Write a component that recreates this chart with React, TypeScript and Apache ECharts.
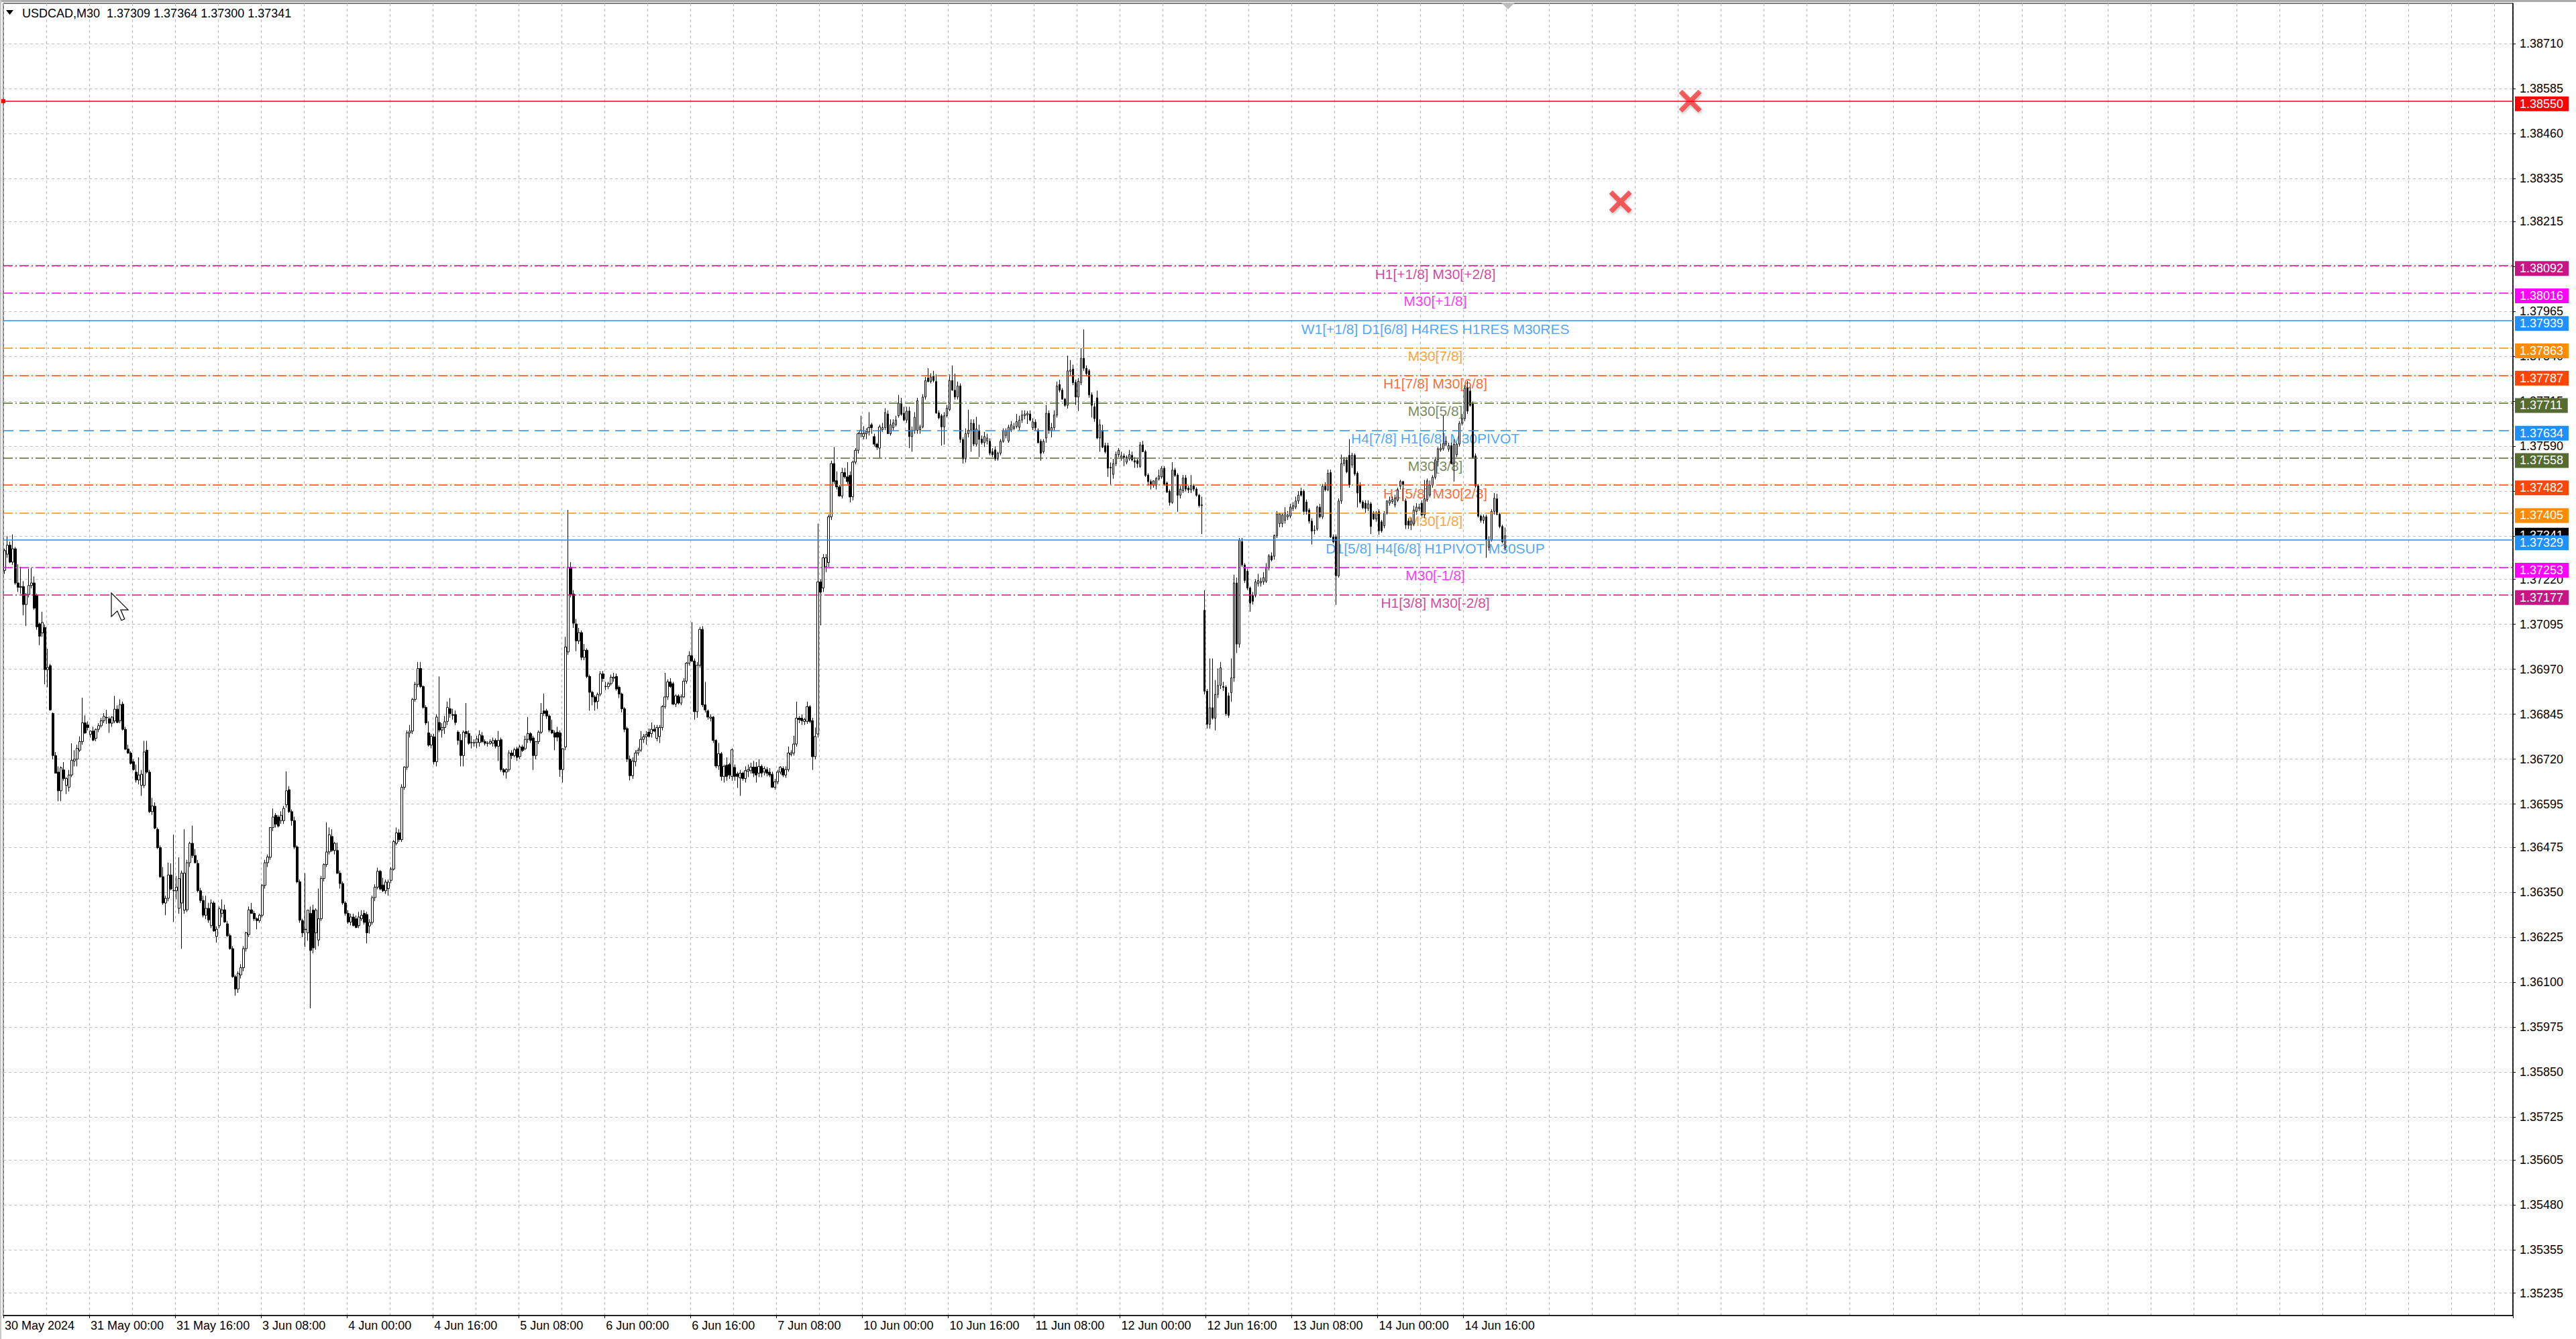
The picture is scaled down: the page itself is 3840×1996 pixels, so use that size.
import React, { useEffect, useRef } from "react";
import * as echarts from "echarts";

const SYMBOL = "USDCAD,M30";
const BASE = 1.36;
const PT = 100000;

// M30 bars, [open, high, low, close] in points above 1.36000
const may30 = [
  [1245,1305,1235,1300],[1290,1340,1280,1315],[1315,1325,1265,1268],[1268,1345,1260,1305],
  [1305,1310,1205,1210],[1210,1262,1185,1198],[1198,1255,1180,1200],[1200,1215,1120,1150],
  [1150,1182,1090,1178],[1178,1250,1170,1203],[1203,1252,1195,1210],[1210,1228,1135,1140],
  [1175,1180,1080,1088],[1096,1100,1037,1062],[1071,1130,1060,1100],[1086,1095,928,969],
  [969,1027,920,975],[980,985,855,857],[847,850,720,730],[730,740,680,681],
  [684,700,603,632],[632,700,603,696],[690,712,660,666],[647,670,623,666],
  [642,690,630,676],[676,764,670,717],[715,745,700,720],[720,760,700,750],
  [745,783,740,769],[769,891,760,821],[821,842,790,793],[815,825,800,808],
];
const may31 = [
  [789,800,780,798],[798,810,770,773],[778,805,770,803],[803,820,795,813],
  [813,835,808,827],[827,848,820,839],[836,857,818,835],[832,838,793,820],
  [820,840,810,837],[826,896,820,859],[859,870,820,822],[827,886,820,871],
  [873,880,800,803],[803,810,745,748],[748,760,735,737],[737,742,705,708],
  [713,720,688,691],[684,705,655,662],[662,725,650,676],[647,690,618,678],
  [647,771,640,740],[745,771,680,684],[684,690,570,574],[574,612,565,590],
  [589,600,525,528],[525,530,470,474],[474,480,390,393],[393,420,315,320],
  [320,340,286,333],[333,432,325,398],[398,430,355,359],[355,510,267,354],
  [354,395,330,364],[305,447,290,388],[320,410,193,403],[300,525,290,403],
  [301,440,295,432],[432,490,420,486],[486,535,445,452],[452,470,430,432],
  [430,440,350,354],[354,362,320,327],[327,340,280,286],[286,340,275,305],
  [305,320,265,273],[257,330,250,320],[320,325,240,242],[227,255,210,247],
];
const jun03 = [
  [257,310,250,304],[291,330,280,301],[301,315,265,267],[262,270,225,229],
  [229,235,190,193],[193,200,112,115],[115,120,62,81],[81,130,70,124],
  [120,150,110,140],[140,200,130,193],[193,240,185,237],[232,310,225,301],
  [301,320,290,291],[291,298,270,276],[276,280,247,271],[271,290,265,286],
  [286,372,280,369],[369,440,360,432],[432,455,420,448],[447,530,440,530],
  [530,583,520,559],[564,570,530,539],[559,565,530,534],[549,575,540,564],
  [549,590,540,583],[593,686,585,632],[635,645,570,574],[574,580,535,549],
  [549,560,470,476],[476,480,375,379],[379,385,265,272],[271,276,225,237],
  [247,403,198,246],[237,300,215,300],[291,310,27,188],[300,315,180,195],
  [237,305,190,300],[217,360,200,276],[276,395,270,388],[388,430,380,427],
  [427,544,420,462],[462,530,455,510],[505,525,462,466],[466,490,455,486],
  [466,488,400,403],[403,410,360,374],[374,380,315,320],[320,325,285,291],
];
const jun04 = [
  [291,300,262,267],[267,290,258,281],[281,290,255,257],[276,285,250,252],
  [257,295,250,281],[276,300,270,286],[291,300,260,266],[288,295,208,237],
  [256,275,235,266],[266,340,260,335],[335,372,325,364],[364,418,358,408],
  [408,412,355,359],[370,390,350,354],[354,385,345,378],[360,385,340,378],
  [383,420,375,414],[414,495,410,491],[486,530,480,515],[515,525,490,496],
  [496,650,490,642],[642,700,635,698],[698,800,690,793],[793,815,780,798],
  [798,890,790,886],[886,935,880,928],[928,990,920,972],[972,990,918,922],
  [922,925,860,864],[864,870,815,821],[793,825,755,759],[759,790,750,784],
  [782,790,705,713],[713,845,700,837],[822,950,795,801],[801,820,780,808],
  [808,840,790,824],[825,880,815,864],[860,890,835,847],[844,860,830,842],
  [844,855,815,822],[795,800,760,772],[772,790,700,730],[730,800,700,795],
  [797,876,780,791],[791,800,760,764],[766,785,750,766],[766,775,755,765],
];
const jun05 = [
  [766,785,750,776],[766,800,755,788],[785,795,765,769],[769,775,758,764],
  [764,770,755,764],[764,775,760,769],[764,780,755,772],[772,778,750,756],
  [756,798,715,772],[774,780,685,691],[691,695,675,684],[684,695,666,691],
  [691,745,685,737],[737,745,720,730],[730,752,725,746],[749,755,715,725],
  [727,760,720,754],[754,760,740,744],[749,785,745,775],[775,837,765,791],
  [791,795,765,772],[779,785,690,730],[730,770,720,769],[769,800,762,795],
  [795,876,790,847],[854,902,840,847],[854,860,832,840],[840,845,795,801],
  [801,830,790,793],[793,800,745,781],[795,810,770,781],[793,800,671,691],
  [691,750,655,749],[754,1060,745,1032],[1018,1413,1010,1254],[1254,1268,1170,1179],
  [1179,1190,1085,1098],[1096,1110,1020,1049],[1049,1085,1040,1072],[1072,1078,995,1003],
  [1003,1040,995,1023],[1023,1028,945,950],[950,955,855,906],[906,910,870,893],
  [893,898,855,879],[881,905,860,900],[901,965,895,957],[957,965,935,944],
];
const jun06 = [
  [922,935,912,922],[922,935,915,930],[930,955,925,948],[945,960,935,948],
  [950,958,910,915],[920,925,890,901],[901,905,850,860],[860,865,795,803],
  [805,810,712,720],[720,730,661,674],[674,725,665,715],[713,745,700,737],
  [737,752,730,745],[745,798,740,775],[775,790,765,782],[782,798,760,788],
  [795,805,780,783],[791,822,780,803],[803,815,795,798],[778,815,770,808],
  [783,815,765,808],[808,870,800,866],[866,960,860,893],[893,942,885,935],
  [935,945,918,922],[930,935,870,873],[873,900,865,896],[896,900,872,876],
  [876,900,870,893],[893,945,890,937],[937,990,930,987],[987,1020,980,1008],
  [1008,1101,990,993],[993,1000,830,852],[852,990,835,981],[981,1088,975,1081],
  [1081,1090,865,871],[871,935,850,857],[854,858,830,837],[834,845,825,837],
  [837,840,765,772],[772,775,695,701],[701,765,690,735],[735,740,660,672],
  [672,705,655,700],[703,725,660,672],[705,710,665,676],[672,750,660,746],
];
const jun07 = [
  [697,705,660,672],[679,685,640,672],[668,690,618,681],[681,685,660,666],
  [666,700,655,688],[686,705,670,691],[688,710,680,698],[698,715,670,681],
  [698,712,655,676],[681,720,670,700],[700,705,670,681],[684,700,675,694],
  [691,698,672,681],[684,695,670,676],[678,685,640,642],[642,665,635,657],
  [657,690,650,684],[684,700,678,698],[694,700,670,676],[676,700,668,691],
  [691,755,685,737],[733,745,728,737],[737,785,730,762],[762,880,755,834],
  [834,840,820,830],[834,845,815,827],[825,835,815,830],[825,880,818,866],
  [866,870,820,825],[827,835,690,727],[727,808,720,783],[790,1375,780,1213],
  [1213,1220,1092,1184],[1196,1290,1185,1280],[1255,1290,1240,1280],[1267,1400,1255,1394],
  [1394,1550,1385,1542],[1542,1588,1485,1492],[1494,1520,1470,1477],[1477,1482,1450,1452],
  [1452,1530,1445,1517],[1517,1530,1500,1505],[1505,1546,1485,1492],[1509,1520,1434,1449],
  [1450,1550,1440,1546],[1546,1585,1540,1579],[1579,1630,1570,1625],[1625,1675,1615,1635],
];
const jun10 = [
  [1617,1646,1609,1625],[1625,1640,1610,1630],[1630,1685,1620,1642],[1650,1655,1625,1642],
  [1617,1625,1590,1596],[1596,1600,1580,1588],[1585,1650,1558,1644],[1636,1655,1630,1642],
  [1642,1696,1635,1684],[1680,1690,1625,1625],[1625,1665,1620,1650],[1642,1665,1635,1655],
  [1650,1675,1645,1663],[1675,1733,1670,1710],[1710,1725,1675,1679],[1682,1700,1660,1663],
  [1663,1700,1655,1688],[1688,1700,1585,1617],[1617,1645,1575,1635],[1634,1685,1625,1671],
  [1634,1725,1625,1717],[1636,1650,1625,1644],[1644,1735,1640,1727],[1727,1783,1720,1773],
  [1780,1807,1768,1770],[1770,1793,1765,1783],[1785,1800,1768,1773],[1770,1790,1680,1683],
  [1683,1690,1665,1669],[1675,1680,1592,1644],[1644,1685,1595,1675],[1675,1705,1670,1696],
  [1692,1790,1688,1773],[1773,1815,1745,1746],[1746,1792,1720,1727],[1727,1770,1720,1758],
  [1758,1765,1600,1609],[1609,1615,1542,1555],[1555,1640,1545,1625],[1625,1692,1615,1635],
  [1635,1665,1575,1654],[1654,1665,1590,1596],[1596,1672,1590,1638],[1634,1650,1560,1609],
  [1610,1620,1595,1600],[1600,1630,1588,1617],[1605,1625,1595,1613],[1604,1612,1565,1571],
];
const jun11 = [
  [1575,1585,1560,1567],[1580,1590,1550,1555],[1555,1575,1550,1571],[1571,1610,1565,1604],
  [1604,1640,1600,1633],[1620,1640,1612,1633],[1605,1650,1600,1643],[1635,1660,1630,1650],
  [1640,1655,1635,1645],[1645,1680,1640,1659],[1643,1675,1635,1663],[1663,1690,1655,1677],
  [1675,1690,1665,1680],[1677,1688,1652,1682],[1680,1690,1660,1663],[1642,1668,1635,1658],
  [1657,1665,1634,1642],[1635,1640,1598,1600],[1604,1610,1550,1571],[1575,1610,1570,1604],
  [1613,1705,1600,1682],[1682,1690,1625,1634],[1634,1655,1615,1642],[1642,1690,1635,1677],
  [1677,1770,1670,1758],[1762,1775,1740,1746],[1746,1752,1720,1721],[1721,1725,1700,1704],
  [1704,1842,1695,1800],[1798,1830,1785,1802],[1805,1817,1760,1767],[1768,1775,1705,1727],
  [1727,1780,1688,1771],[1767,1863,1760,1835],[1835,1915,1800,1807],[1807,1815,1785,1792],
  [1800,1805,1725,1733],[1733,1740,1670,1704],[1700,1710,1658,1667],[1725,1745,1610,1613],
  [1613,1665,1575,1650],[1634,1650,1585,1588],[1592,1600,1570,1575],[1592,1600,1505,1529],
  [1530,1545,1484,1532],[1512,1555,1500,1542],[1542,1575,1535,1567],[1567,1585,1560,1579],
];
const jun12 = [
  [1558,1575,1550,1563],[1563,1570,1535,1559],[1546,1565,1540,1560],[1555,1580,1550,1567],
  [1565,1575,1548,1552],[1550,1560,1530,1546],[1550,1555,1530,1542],[1534,1602,1530,1594],
  [1594,1605,1575,1575],[1575,1580,1505,1509],[1510,1515,1480,1492],[1492,1498,1470,1484],
  [1482,1495,1475,1494],[1482,1505,1470,1500],[1499,1525,1495,1508],[1505,1535,1500,1529],
  [1529,1535,1480,1484],[1488,1492,1460,1463],[1465,1470,1425,1434],[1434,1546,1430,1524],
  [1524,1530,1505,1509],[1510,1515,1408,1454],[1454,1480,1445,1471],[1466,1510,1460,1502],
  [1502,1510,1465,1471],[1474,1480,1460,1469],[1469,1510,1460,1482],[1480,1485,1465,1471],
  [1471,1476,1450,1454],[1454,1458,1420,1425],[1425,1450,1346,1427],[1134,1190,900,909],
  [909,915,805,817],[817,1000,805,863],[863,1000,830,834],[834,940,800,900],
  [900,972,890,925],[925,990,915,974],[922,935,910,920],[920,925,840,846],
  [896,905,835,842],[905,1000,880,946],[946,1233,935,1210],[1210,1225,1015,1040],
  [1040,1335,1030,1329],[1325,1335,1255,1260],[1260,1265,1210,1217],[1243,1250,1190,1196],
];
const jun13 = [
  [1196,1200,1130,1154],[1175,1185,1150,1159],[1175,1220,1170,1213],[1208,1235,1200,1217],
  [1210,1225,1200,1215],[1213,1240,1205,1225],[1215,1265,1210,1252],[1252,1290,1245,1285],
  [1285,1295,1270,1274],[1284,1345,1275,1342],[1342,1410,1335,1402],[1375,1405,1365,1402],
  [1375,1405,1365,1399],[1384,1421,1375,1405],[1394,1410,1385,1399],[1396,1430,1390,1421],
  [1417,1435,1410,1425],[1421,1450,1415,1438],[1438,1465,1430,1454],[1465,1475,1450,1454],
  [1465,1470,1400,1409],[1435,1442,1400,1409],[1413,1418,1375,1382],[1382,1390,1317,1354],
  [1356,1370,1345,1357],[1360,1425,1355,1421],[1421,1430,1390,1394],[1394,1485,1388,1479],
  [1479,1490,1465,1469],[1469,1525,1465,1515],[1517,1525,1335,1338],[1338,1345,1320,1325],
  [1338,1345,1149,1230],[1230,1445,1225,1438],[1438,1567,1430,1542],[1542,1560,1535,1552],
  [1552,1560,1515,1519],[1565,1610,1475,1483],[1538,1572,1530,1565],[1565,1570,1508,1513],
  [1515,1520,1420,1460],[1482,1490,1430,1435],[1435,1440,1415,1419],[1432,1440,1405,1417],
  [1417,1440,1410,1430],[1430,1435,1346,1367],[1405,1410,1385,1388],[1388,1410,1380,1405],
];
const jun14 = [
  [1408,1415,1344,1355],[1380,1385,1350,1355],[1369,1410,1362,1404],[1404,1440,1400,1438],
  [1432,1450,1425,1440],[1436,1450,1430,1442],[1427,1455,1420,1446],[1440,1475,1435,1469],
  [1479,1497,1470,1492],[1492,1494,1440,1484],[1438,1445,1360,1371],[1382,1390,1360,1371],
  [1371,1392,1357,1382],[1374,1425,1368,1413],[1409,1432,1400,1421],[1417,1430,1410,1421],
  [1432,1440,1395,1399],[1399,1496,1390,1444],[1442,1500,1436,1494],[1454,1495,1448,1482],
  [1482,1510,1475,1504],[1504,1560,1498,1552],[1552,1588,1534,1583],[1580,1598,1575,1585],
  [1583,1675,1578,1598],[1596,1618,1590,1604],[1582,1600,1575,1592],[1592,1600,1540,1542],
  [1542,1610,1492,1596],[1567,1600,1560,1596],[1596,1660,1590,1654],[1654,1680,1648,1667],
  [1667,1760,1660,1752],[1752,1772,1680,1688],[1744,1755,1700,1704],[1708,1715,1555,1559],
  [1563,1570,1475,1480],[1480,1485,1392,1396],[1396,1400,1378,1384],[1384,1400,1375,1394],
  [1394,1400,1280,1330],[1309,1340,1300,1330],[1330,1415,1325,1409],[1409,1460,1400,1446],
  [1444,1458,1398,1401],[1401,1405,1362,1367],[1367,1372,1320,1325],[1309,1364,1300,1341],
];
const days = [may30, may31, jun03, jun04, jun05, jun06, jun07, jun10, jun11, jun12, jun13, jun14];

// time axis labels, one every 32 bars (16 hours)
const xTickLabels = [
  "30 May 2024", "31 May 00:00", "31 May 16:00", "3 Jun 08:00", "4 Jun 00:00", "4 Jun 16:00",
  "5 Jun 08:00", "6 Jun 00:00", "6 Jun 16:00", "7 Jun 08:00", "10 Jun 00:00", "10 Jun 16:00",
  "11 Jun 08:00", "12 Jun 00:00", "12 Jun 16:00", "13 Jun 08:00", "14 Jun 00:00", "14 Jun 16:00",
];
// price scale labels
const yTickValues = [
  1.3871, 1.38585, 1.3846, 1.38335, 1.38215, 1.3809, 1.37965, 1.3784, 1.37715, 1.3759,
  1.37465, 1.3734, 1.3722, 1.37095, 1.3697, 1.36845, 1.3672, 1.36595, 1.36475, 1.3635,
  1.36225, 1.361, 1.35975, 1.3585, 1.35725, 1.35605, 1.3548, 1.35355, 1.35235,
];
// Murrey-math levels
const levelValues = [
  1.3855, 1.38092, 1.38016, 1.37939, 1.37863, 1.37787, 1.37711,
  1.37634, 1.37558, 1.37482, 1.37405, 1.37329, 1.37253, 1.37177,
];
const levelNames = [
  "", "H1[+1/8] M30[+2/8]", "M30[+1/8]", "W1[+1/8] D1[6/8] H4RES H1RES M30RES", "M30[7/8]",
  "H1[7/8] M30[6/8]", "M30[5/8]", "H4[7/8] H1[6/8] M30PIVOT", "M30[3/8]", "H1[5/8] M30[2/8]",
  "M30[1/8]", "D1[5/8] H4[6/8] H1PIVOT M30SUP", "M30[-1/8]", "H1[3/8] M30[-2/8]",
];
// trade markers (bar slot, price)
const crossSlots = [602, 628];
const crossPrices = [1.3827, 1.3855];

// ---- styles (kept apart from the data) ----
const levelColors = [
  "#FF0000", "#C71585", "#FF00FF", "#1E90FF", "#FF8C00", "#FF4500", "#556B2F",
  "#1E90FF", "#556B2F", "#FF4500", "#FF8C00", "#1E90FF", "#FF00FF", "#C71585",
];
const levelDash = [
  "solid", "dashdot", "dashdot", "solid", "dashdot", "dashdot", "dashdot",
  "dash", "dashdot", "dashdot", "dashdot", "solid", "dashdot", "dashdot",
];
const FONT = '"Liberation Sans", Arial, sans-serif';
const SLOTS = 935;
const LABEL_SLOT = 533;
const Y_MIN = 1.351727;
const Y_MAX = 1.388219;
const X_PATH =
  "path://M3,0 L10,7 L17,0 L20,3 L13,10 L20,17 L17,20 L10,13 L3,20 L0,17 L7,10 L0,3 Z";

const dashType = (d: string) =>
  d === "solid" ? "solid" : d === "dash" ? [15, 9] : [14, 4, 2, 4];

const toPrice = (p: number) => +(BASE + p / PT).toFixed(5);

export default function App() {
  const ref = useRef<HTMLDivElement>(null);

  useEffect(() => {
    if (!ref.current) return;
    const chart = echarts.init(ref.current, null, { renderer: "svg" });

    const bars = days.flat();
    const candleData = bars.map(([o, h, l, c]) => {
      const hi = Math.max(h, o, c);
      const lo = Math.min(l, o, c);
      return [toPrice(o), toPrice(c), toPrice(lo), toPrice(hi)];
    });
    const last = bars[bars.length - 1];
    const bid = toPrice(last[3]);
    const titleText =
      SYMBOL + "\u00a0\u00a0" + last.map((v) => toPrice(v).toFixed(5)).join(" ");

    const slots = Array.from({ length: SLOTS }, (_, i) => String(i));

    const levelItems = levelNames
      .map((n, k) =>
        n
          ? { name: n, value: [LABEL_SLOT, levelValues[k]], label: { color: levelColors[k] } }
          : null
      )
      .filter(Boolean);

    const markLineData: any[] = [
      {
        yAxis: bid,
        symbol: "none",
        lineStyle: { color: "rgba(0,0,0,0)", width: 0 },
        label: { backgroundColor: "#000000", color: "#ffffff", offset: [0, -1] },
      },
    ];
    levelValues.forEach((v, k) => {
      markLineData.push({
        yAxis: v,
        symbol: k === 0 ? ["emptyRect", "emptyRect"] : "none",
        symbolSize: 6,
        lineStyle: { color: levelColors[k], width: 1.5, type: dashType(levelDash[k]) },
        label: { backgroundColor: levelColors[k] },
      });
    });

    const isLabelSlot = (i: number) => i % 32 === 0 && i / 32 < xTickLabels.length;

    chart.setOption({
      animation: false,
      backgroundColor: "#ffffff",
      grid: {
        left: 5,
        top: 5,
        right: 94,
        bottom: 35,
        show: true,
        borderColor: "#000000",
        borderWidth: 1,
        backgroundColor: "#ffffff",
        containLabel: false,
        outerBoundsMode: "none",
      },
      xAxis: {
        type: "category",
        data: slots,
        boundaryGap: true,
        axisLine: { show: true, lineStyle: { color: "#000000", width: 1.5 } },
        axisTick: {
          show: true,
          interval: (i: number) => isLabelSlot(i),
          length: 4,
          lineStyle: { color: "#000000", width: 1 },
        },
        axisLabel: {
          show: true,
          interval: (i: number) => isLabelSlot(i),
          formatter: (_v: string, i: number) => xTickLabels[i / 32] ?? "",
          align: "left",
          verticalAlign: "top",
          margin: 6,
          fontSize: 18,
          fontFamily: FONT,
          color: "#000000",
          hideOverlap: false,
        },
        splitLine: {
          show: true,
          interval: (i: number) => i % 16 === 0,
          lineStyle: { color: "#BEBEBE", type: [4, 4], width: 1 },
        },
      },
      yAxis: {
        type: "value",
        position: "right",
        min: Y_MIN,
        max: Y_MAX,
        axisLine: { show: true, lineStyle: { color: "#000000", width: 1.5 } },
        axisTick: {
          show: true,
          length: 4,
          customValues: yTickValues,
          lineStyle: { color: "#000000" },
        },
        axisLabel: {
          show: true,
          customValues: yTickValues,
          formatter: (v: number) => Number(v).toFixed(5),
          margin: 10,
          fontSize: 18,
          fontFamily: FONT,
          color: "#000000",
          hideOverlap: false,
        },
        splitLine: {
          show: true,
          lineStyle: { color: "#BEBEBE", type: [4, 4], width: 1 },
        },
      },
      series: [
        {
          name: "levels",
          type: "scatter",
          z: 2,
          silent: true,
          symbol: "circle",
          symbolSize: 1,
          itemStyle: { color: "rgba(0,0,0,0)" },
          label: {
            show: true,
            position: "bottom",
            distance: 1,
            fontSize: 21,
            lineHeight: 21,
            fontFamily: FONT,
            formatter: (p: any) => p.name,
          },
          data: levelItems,
          markLine: {
            silent: true,
            symbol: "none",
            precision: 5,
            animation: false,
            label: {
              show: true,
              position: "end",
              distance: 3,
              offset: [0, 4],
              formatter: (p: any) => Number(p.value).toFixed(5),
              color: "#ffffff",
              fontSize: 18,
              lineHeight: 18,
              fontFamily: FONT,
              padding: [2, 8, 2, 7],
            },
            data: markLineData,
          },
        },
        {
          name: SYMBOL,
          type: "candlestick",
          z: 3,
          silent: true,
          barWidth: 3.2,
          data: candleData,
          itemStyle: {
            color: "#ffffff",
            color0: "#000000",
            borderColor: "#000000",
            borderColor0: "#000000",
            borderColorDoji: "#000000",
            borderWidth: 1,
          },
        },
        {
          name: "marks",
          type: "scatter",
          z: 4,
          silent: true,
          symbol: X_PATH,
          symbolSize: 34,
          itemStyle: {
            color: "#F23C3C",
            shadowBlur: 4,
            shadowColor: "rgba(0,0,0,0.35)",
            shadowOffsetX: 1,
            shadowOffsetY: 2,
          },
          data: crossSlots.map((s, k) => [s, crossPrices[k]]),
        },
      ],
      graphic: {
        elements: [
          { type: "rect", silent: true, z: 100, shape: { x: 0, y: 0, width: 3840, height: 3 }, style: { fill: "#ABABAB" } },
          { type: "rect", silent: true, z: 100, shape: { x: 0, y: 0, width: 2, height: 1996 }, style: { fill: "#C8C8C8" } },
          { type: "polygon", silent: true, z: 100, shape: { points: [[9, 15], [20, 15], [14.5, 22]] }, style: { fill: "#000000" } },
          {
            type: "text",
            silent: true,
            z: 100,
            x: 33,
            y: 20,
            style: { text: titleText, fill: "#000000", fontSize: 18, fontFamily: FONT, verticalAlign: "middle" },
          },
          { type: "polygon", silent: true, z: 100, shape: { points: [[2238, 4], [2258, 4], [2248, 14]] }, style: { fill: "#BDBDBD" } },
          {
            type: "polygon",
            silent: true,
            z: 100,
            x: 166,
            y: 884,
            scaleX: 2.2,
            scaleY: 2.2,
            shape: { points: [[0, 0], [0, 16], [4, 12.2], [6.8, 18.5], [9, 17.6], [6.3, 11.4], [11.4, 11.4]] },
            style: { fill: "#ffffff", stroke: "#000000", lineWidth: 0.55 },
          },
        ],
      },
    });

    return () => chart.dispose();
  }, []);

  return (
    <div
      ref={ref}
      style={{ position: "fixed", left: 0, top: 0, width: 3840, height: 1996, background: "#ffffff" }}
    />
  );
}
